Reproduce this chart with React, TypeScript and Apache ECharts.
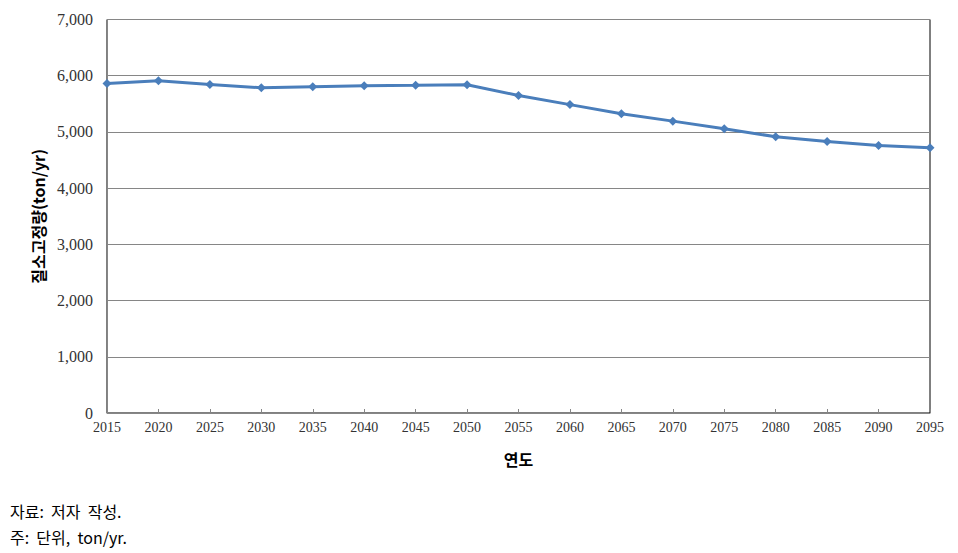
import React, { useEffect, useRef } from "react";
import * as echarts from "echarts";

const years = ["2015","2020","2025","2030","2035","2040","2045","2050","2055","2060","2065","2070","2075","2080","2085","2090","2095"];
const values = [5860, 5910, 5842, 5785, 5805, 5822, 5830, 5840, 5648, 5486, 5325, 5192, 5055, 4915, 4828, 4760, 4718];
const yTicks = { min: 0, max: 7000, interval: 1000 };
const yAxisTitle = "질소고정량(ton/yr)";
const xAxisTitle = "연도";
const notes = ["자료:  저자  작성.", "주:  단위,  ton/yr."];

export default function App() {
  const ref = useRef<HTMLDivElement>(null);
  useEffect(() => {
    if (!ref.current) return;
    const chart = echarts.init(ref.current, undefined, { renderer: "svg" });
    chart.setOption({
      animation: false,
      backgroundColor: "#ffffff",
      grid: { left: 107, right: 28, top: 19.5, bottom: 140, show: true, borderColor: "#000000", borderWidth: 1 },
      xAxis: {
        type: "category",
        data: years,
        boundaryGap: false,
        axisLine: { lineStyle: { color: "#868686", width: 1 } },
        axisTick: { inside: true, length: 4, lineStyle: { color: "#868686" } },
        axisLabel: { color: "#333", fontFamily: "Liberation Serif", fontSize: 14, margin: 7 },
        name: xAxisTitle,
        nameLocation: "middle",
        nameGap: 38,
        nameTextStyle: { color: "#000", fontFamily: "Noto Sans CJK KR", fontWeight: "bold", fontSize: 16 },
      },
      yAxis: {
        type: "value",
        min: yTicks.min,
        max: yTicks.max,
        interval: yTicks.interval,
        axisLine: { show: true, lineStyle: { color: "#868686", width: 1 } },
        axisTick: { show: false },
        splitLine: { lineStyle: { color: "#868686", width: 1 } },
        axisLabel: {
          color: "#333",
          fontFamily: "Liberation Serif",
          fontSize: 16,
          margin: 14,
          formatter: (v: number) => v.toLocaleString("en-US"),
        },
        name: yAxisTitle,
        nameLocation: "middle",
        nameGap: 61,
        nameRotate: 90,
        nameTextStyle: { color: "#000", fontFamily: "Noto Sans CJK KR", fontWeight: "bold", fontSize: 16 },
      },
      series: [
        {
          type: "line",
          data: values,
          symbol: "diamond",
          symbolSize: 9,
          lineStyle: { color: "#4a7ebb", width: 3 },
          itemStyle: { color: "#4a7ebb" },
          z: 5,
        },
      ],
      graphic: [
        {
          type: "text",
          left: 10,
          top: 503,
          style: { text: notes[0], fill: "#000", font: "16px 'Noto Sans CJK KR'" },
        },
        {
          type: "text",
          left: 10,
          top: 529,
          style: { text: notes[1], fill: "#000", font: "16px 'Noto Sans CJK KR'" },
        },
      ],
    });
    return () => chart.dispose();
  }, []);
  return <div ref={ref} style={{ width: 958, height: 553, position: "absolute", left: 0, top: 0 }} />;
}
